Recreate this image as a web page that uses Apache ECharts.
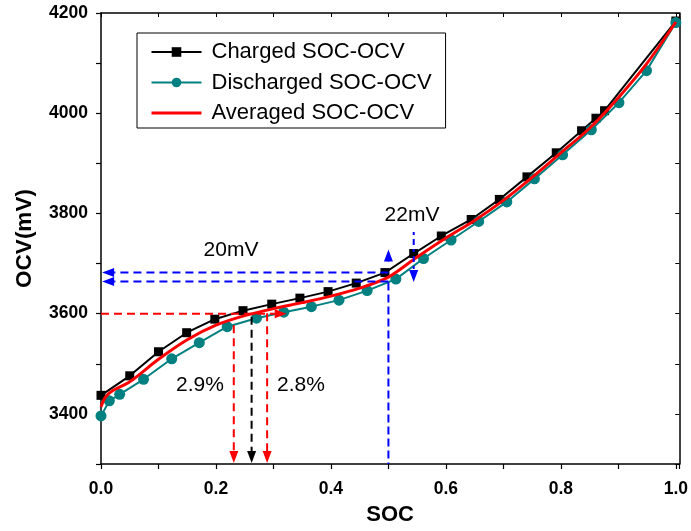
<!DOCTYPE html>
<html>
<head>
<meta charset="utf-8">
<script src="https://cdn.jsdelivr.net/npm/echarts@6/dist/echarts.min.js"></script>
<style>
  html, body { margin: 0; padding: 0; background: #fff; }
  #chart { width: 691px; height: 531px; }
</style>
</head>
<body>
<div id="chart"></div>
<script>
// Charged OCV curve (mV) against state of charge
const chargedSOC = [0.0, 0.05, 0.1, 0.149, 0.198, 0.247, 0.297, 0.346, 0.395, 0.444, 0.494,
                    0.544, 0.592, 0.644, 0.693, 0.741, 0.792, 0.836, 0.861, 0.876, 1.0];
const chargedOCV = [3437, 3476, 3524, 3562, 3589, 3606, 3619, 3631, 3644, 3661, 3682,
                    3720, 3755, 3788, 3828, 3873, 3921, 3965, 3990, 4005, 4184];

// Discharged OCV curve
const dischargedSOC = [0.0, 0.0145, 0.0325, 0.074, 0.123, 0.171, 0.2195, 0.2705, 0.318, 0.366,
                       0.414, 0.463, 0.513, 0.561, 0.609, 0.657, 0.706, 0.754, 0.803, 0.853,
                       0.901, 0.949, 1.0];
const dischargedOCV = [3396, 3426, 3439, 3469, 3510, 3542, 3574, 3591, 3603, 3614,
                       3627, 3646, 3669, 3710, 3747, 3784, 3823, 3869, 3917, 3967,
                       4021, 4085, 4181];

// Averaged OCV curve
const averagedSOC = [0.0, 0.0075, 0.02, 0.05, 0.1, 0.15, 0.2, 0.25, 0.3, 0.35, 0.4, 0.45,
                     0.5, 0.55, 0.6, 0.65, 0.7, 0.75, 0.8, 0.85, 0.9, 0.95, 1.0];
const averagedOCV = [3414, 3433, 3446, 3464, 3509, 3548, 3577, 3596, 3610, 3622, 3635, 3651,
                     3673, 3713, 3751, 3786, 3826, 3872, 3921, 3970, 4031, 4100, 4182];

// Guide arrows: [socFrom, ocvFrom, socTo, ocvTo, colour index, arrowhead, dash index]
const guideArrows = [
  [0.0, 3600, 0.323, 3600, 0, 1, 0],
  [0.231, 3577, 0.231, 3302, 0, 1, 0],
  [0.262, 3594, 0.262, 3302, 1, 1, 0],
  [0.289, 3601, 0.289, 3302, 0, 1, 0],
  [0.5, 3682, 0.002, 3682, 2, 1, 0],
  [0.5, 3664, 0.002, 3664, 2, 1, 0],
  [0.5, 3662, 0.5, 3300, 2, 0, 1],
  [0.5, 3703, 0.5, 3728, 2, 1, 1],
  [0.544, 3763, 0.544, 3663, 2, 1, 2]
];

const seriesNames = ['Charged SOC-OCV', 'Discharged SOC-OCV', 'Averaged SOC-OCV'];

const guideColors = ['#ff0000', '#000000', '#0000ff'];
const guideDashes = [[8, 5], [8, 4], [3, 4, 6, 4]];
const FONT = '"Liberation Sans", Arial, sans-serif';

const zip = (xs, ys) => xs.map((x, i) => [x, ys[i]]);

const chart = echarts.init(document.getElementById('chart'), null, { renderer: 'canvas' });

const tickLabel = { fontFamily: FONT, fontSize: 17.5, fontWeight: 'bold', color: '#000' };

// Dashed guide line with an optional filled arrowhead at its end point
function renderGuide(params, api) {
  const p0 = api.coord([api.value(0), api.value(1)]);
  const p1 = api.coord([api.value(2), api.value(3)]);
  const color = guideColors[api.value(4)];
  const head = api.value(5);
  const dash = guideDashes[api.value(6)];
  const dx = p1[0] - p0[0], dy = p1[1] - p0[1];
  const len = Math.hypot(dx, dy) || 1;
  const ux = dx / len, uy = dy / len;
  const L = 12, W = 4.5;
  const base = head ? [p1[0] - ux * L, p1[1] - uy * L] : p1;
  const children = [{
    type: 'line',
    shape: { x1: p0[0], y1: p0[1], x2: base[0], y2: base[1] },
    style: { stroke: color, lineWidth: 2, lineDash: dash, fill: null }
  }];
  if (head) {
    children.push({
      type: 'polygon',
      shape: { points: [p1, [base[0] - uy * W, base[1] + ux * W], [base[0] + uy * W, base[1] - ux * W]] },
      style: { fill: color, stroke: null }
    });
  }
  return { type: 'group', children };
}

const option = {
  backgroundColor: '#fff',
  animation: false,
  grid: { left: 101, top: 13, right: 11, bottom: 66.5, containLabel: false },
  legend: {
    left: 137, top: 33, orient: 'vertical',
    backgroundColor: '#fff', borderColor: '#000', borderWidth: 1, borderRadius: 0,
    padding: [8, 14, 4, 13],
    itemWidth: 50, itemHeight: 12, itemGap: 8.5,
    lineStyle: { width: 'inherit' },
    textStyle: { fontFamily: FONT, fontSize: 22, color: '#000', lineHeight: 22, padding: [0, 0, 0, 5] },
    data: [
      { name: seriesNames[0] },
      { name: seriesNames[1] },
      { name: seriesNames[2], itemStyle: { opacity: 0 } }
    ]
  },
  xAxis: [{
    type: 'value', min: 0, max: 1.006, interval: 0.1,
    position: 'bottom',
    name: 'SOC', nameLocation: 'middle', nameGap: 40,
    nameTextStyle: { fontFamily: FONT, fontSize: 22, fontWeight: 'bold', color: '#000' },
    axisLine: { show: true, onZero: false, lineStyle: { color: '#000', width: 1.5 } },
    axisTick: { show: true, inside: false, length: 5, lineStyle: { color: '#000', width: 1.2 } },
    axisLabel: Object.assign({
      margin: 16,
      formatter: v => (v <= 1.0001 && Math.round(v * 10) % 2 === 0) ? v.toFixed(1) : ''
    }, tickLabel),
    splitLine: { show: false }
  }, {
    type: 'value', min: 0, max: 1.006, interval: 0.1,
    position: 'top',
    axisLine: { show: true, onZero: false, lineStyle: { color: '#000', width: 1.5 } },
    axisTick: { show: true, inside: true, length: 4, lineStyle: { color: '#000', width: 1 } },
    axisLabel: { show: false },
    splitLine: { show: false }
  }],
  yAxis: [{
    type: 'value', min: 3300, max: 4200, interval: 100,
    position: 'left',
    name: 'OCV(mV)', nameLocation: 'middle', nameGap: 65, nameRotate: 90,
    nameTextStyle: { fontFamily: FONT, fontSize: 22.5, fontWeight: 'bold', color: '#000' },
    axisLine: { show: true, onZero: false, lineStyle: { color: '#000', width: 1.5 } },
    axisTick: { show: true, inside: false, length: 5, lineStyle: { color: '#000', width: 1.2 } },
    axisLabel: Object.assign({
      margin: 13,
      formatter: v => (Math.round(v) % 200 === 0) ? String(Math.round(v)) : ''
    }, tickLabel),
    splitLine: { show: false }
  }, {
    type: 'value', min: 3300, max: 4200, interval: 100,
    position: 'right',
    axisLine: { show: true, onZero: false, lineStyle: { color: '#000', width: 1.5 } },
    axisTick: { show: true, inside: true, length: 4, lineStyle: { color: '#000', width: 1 } },
    axisLabel: { show: false },
    splitLine: { show: false }
  }],
  series: [
    {
      name: seriesNames[0], type: 'line',
      data: zip(chargedSOC, chargedOCV),
      symbol: 'rect', symbolSize: 9,
      lineStyle: { color: '#000', width: 2 },
      itemStyle: { color: '#000' },
      z: 2
    },
    {
      name: seriesNames[1], type: 'line',
      data: zip(dischargedSOC, dischargedOCV),
      symbol: 'circle', symbolSize: 11,
      lineStyle: { color: '#008080', width: 2 },
      itemStyle: { color: '#008080' },
      z: 3
    },
    {
      name: seriesNames[2], type: 'line',
      data: zip(averagedSOC, averagedOCV),
      symbol: 'circle', showSymbol: false, smooth: 0.3,
      lineStyle: { color: '#ff0000', width: 3 },
      itemStyle: { color: '#ff0000' },
      z: 4
    },
    {
      name: 'guides', type: 'custom',
      data: guideArrows,
      encode: { x: [0, 2], y: [1, 3] },
      renderItem: renderGuide,
      clip: false,
      silent: true,
      z: 5
    }
  ],
  graphic: [
    { type: 'text', x: 231, y: 250, z: 10, style: { text: '20mV', font: '21px ' + FONT, fill: '#000', align: 'center', verticalAlign: 'middle' } },
    { type: 'text', x: 412, y: 215, z: 10, style: { text: '22mV', font: '21px ' + FONT, fill: '#000', align: 'center', verticalAlign: 'middle' } },
    { type: 'text', x: 200, y: 385, z: 10, style: { text: '2.9%', font: '21px ' + FONT, fill: '#000', align: 'center', verticalAlign: 'middle' } },
    { type: 'text', x: 301, y: 385, z: 10, style: { text: '2.8%', font: '21px ' + FONT, fill: '#000', align: 'center', verticalAlign: 'middle' } }
  ]
};

chart.setOption(option);
</script>
</body>
</html>
